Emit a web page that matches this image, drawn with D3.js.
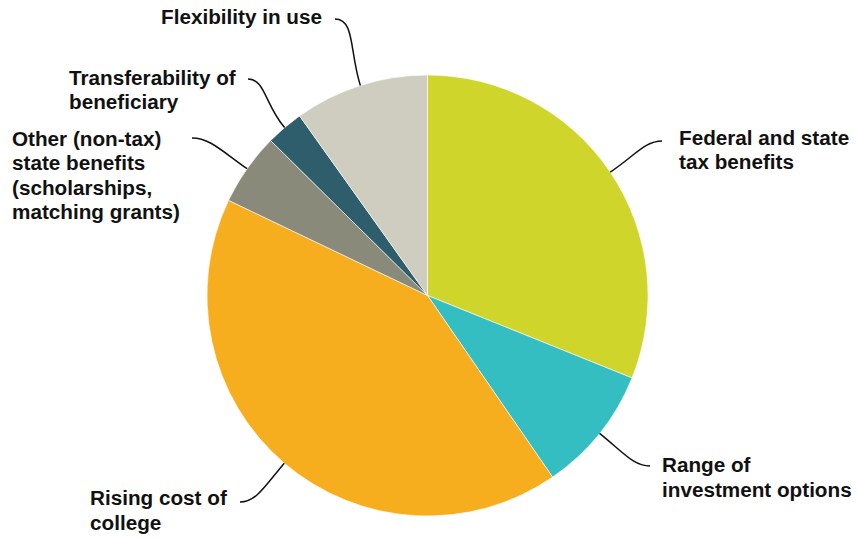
<!DOCTYPE html>
<html>
<head>
<meta charset="utf-8">
<script src="https://cdn.jsdelivr.net/npm/d3@7"></script>
<style>
  html, body { margin: 0; padding: 0; background: #fff; }
  svg { display: block; }
  .label { font-family: "Liberation Sans", Arial, sans-serif; font-weight: bold; font-size: 20.7px; fill: #111; }
</style>
</head>
<body>
<svg id="chart" width="857" height="538"></svg>
<script>
// Reasons for choosing a 529 plan (share of responses, %)
const categories = [
  "Federal and state tax benefits",
  "Range of investment options",
  "Rising cost of college",
  "Other (non-tax) state benefits (scholarships, matching grants)",
  "Transferability of beneficiary",
  "Flexibility in use"
];
const values = [31.1, 9.3, 41.7, 5.3, 2.75, 9.85];
const labelLines = [
  ["Federal and state", "tax benefits"],
  ["Range of", "investment options"],
  ["Rising cost of", "college"],
  ["Other (non-tax)", "state benefits", "(scholarships,", "matching grants)"],
  ["Transferability of", "beneficiary"],
  ["Flexibility in use"]
];
const sliceColors = ["#cfd52a", "#35bec1", "#f6ae1f", "#898a7a", "#2e5e6b", "#cfcdbf"];

// Label placement: text origin (first baseline) and where the leader meets the text
const labelLayout = [
  { x: 679, y: 144.5, ax: 662, ay: 141 },
  { x: 662, y: 472,   ax: 650, ay: 466 },
  { x: 90,  y: 505,   ax: 240, ay: 502 },
  { x: 12,  y: 145.5, ax: 192, ay: 138 },
  { x: 69,  y: 84.5,  ax: 248, ay: 79 },
  { x: 161, y: 24,    ax: 335, ay: 19 }
];
const lineHeight = 24.5;

const svg = d3.select("#chart");
const cx = 427.5, cy = 295.5, radius = 220.5;

const pie = d3.pie().sort(null).value(d => d);
const arcs = pie(values);
const arc = d3.arc().innerRadius(0).outerRadius(radius);

const g = svg.append("g").attr("transform", `translate(${cx},${cy})`);

g.selectAll("path.slice")
  .data(arcs)
  .join("path")
  .attr("class", "slice")
  .attr("d", arc)
  .attr("fill", (d, i) => sliceColors[i])
  .attr("stroke", "#ffffff")
  .attr("stroke-width", 0.6);

// Leader lines: leave the rim radially at each slice's mid-angle, bend into a short horizontal at the label
const leaders = svg.append("g").attr("fill", "none").attr("stroke", "#111").attr("stroke-width", 1.5);
arcs.forEach((d, i) => {
  const mid = (d.startAngle + d.endAngle) / 2;
  const ux = Math.sin(mid), uy = -Math.cos(mid);
  const p0 = [cx + ux * radius, cy + uy * radius];
  const L = labelLayout[i];
  const p3 = [L.ax, L.ay];
  const dist = Math.hypot(p3[0] - p0[0], p3[1] - p0[1]);
  const dir = p3[0] < p0[0] ? 1 : -1;
  const p1 = [p0[0] + ux * dist * 0.5, p0[1] + uy * dist * 0.5];
  const p2 = [p3[0] + dir * dist * 0.28, p3[1]];
  const path = d3.path();
  path.moveTo(p0[0], p0[1]);
  path.bezierCurveTo(p1[0], p1[1], p2[0], p2[1], p3[0], p3[1]);
  leaders.append("path").attr("d", path.toString());
});

// Labels
arcs.forEach((d, i) => {
  const L = labelLayout[i];
  const t = svg.append("text").attr("class", "label").attr("x", L.x).attr("y", L.y);
  labelLines[i].forEach((line, k) => {
    t.append("tspan").attr("x", L.x).attr("y", L.y + k * lineHeight).text(line);
  });
});
</script>
</body>
</html>
